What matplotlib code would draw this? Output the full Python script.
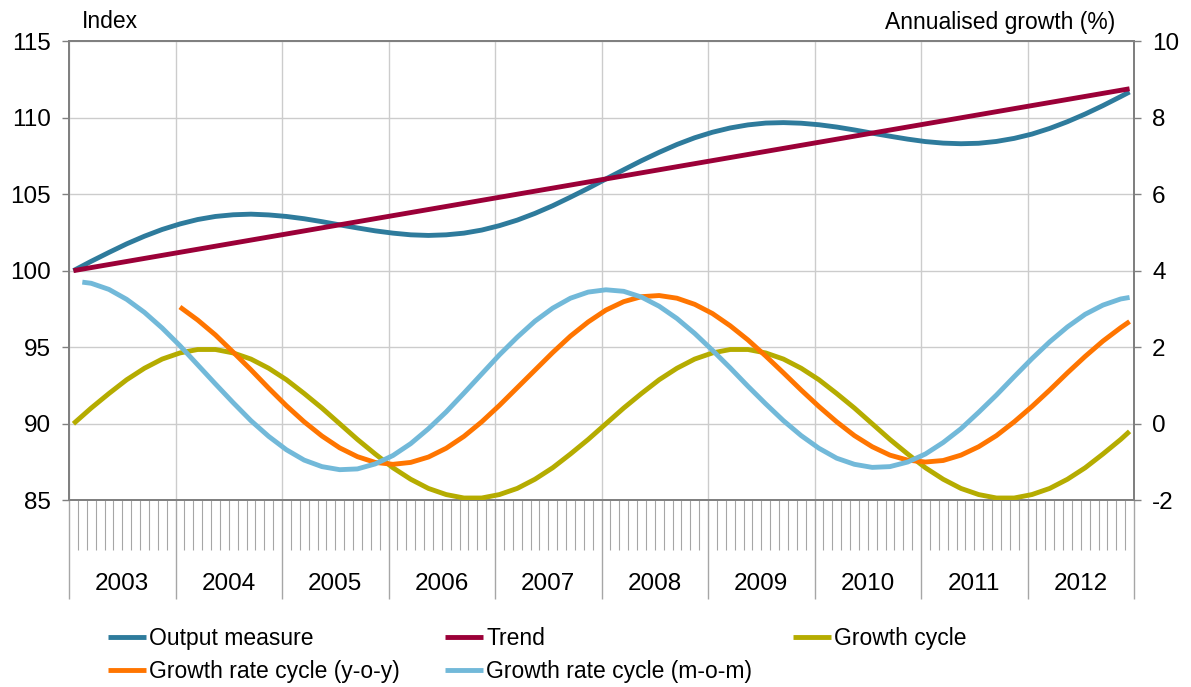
import matplotlib
matplotlib.use("Agg")
import matplotlib.pyplot as plt
import matplotlib.transforms as mtransforms

plt.rcParams['font.family'] = ['Liberation Sans', 'DejaVu Sans']
plt.rcParams['font.size'] = 16.5
plt.rcParams['axes.unicode_minus'] = False

# ---------------- data (month index: 0 = Jan 2003), read every 2 months ----------------
years = ['2003', '2004', '2005', '2006', '2007', '2008', '2009', '2010', '2011', '2012']

b_months = list(range(0, 120, 2)) + [119]

output_measure = [100.00, 100.61, 101.19, 101.75, 102.25, 102.69, 103.05, 103.34, 103.54, 103.65,
                  103.69, 103.64, 103.54, 103.39, 103.20, 102.99, 102.79, 102.60, 102.45, 102.34,
                  102.30, 102.34, 102.45, 102.65, 102.94, 103.30, 103.74, 104.24, 104.80, 105.38,
                  105.99, 106.59, 107.18, 107.73, 108.24, 108.68, 109.04, 109.32, 109.52, 109.64,
                  109.67, 109.63, 109.53, 109.38, 109.19, 108.98, 108.78, 108.59, 108.43, 108.33,
                  108.29, 108.32, 108.44, 108.64, 108.92, 109.29, 109.73, 110.23, 110.78, 111.37,
                  111.67]

trend_months = [0, 119]
trend = [100.00, 111.88]

growth_cycle = [0.00, 0.41, 0.79, 1.15, 1.45, 1.69, 1.85, 1.94, 1.94, 1.85,
                1.69, 1.45, 1.15, 0.79, 0.41, 0.00, -0.41, -0.79, -1.15, -1.45,
                -1.69, -1.85, -1.94, -1.94, -1.85, -1.69, -1.45, -1.15, -0.79, -0.41,
                0.00, 0.41, 0.79, 1.15, 1.45, 1.69, 1.85, 1.94, 1.94, 1.85,
                1.69, 1.45, 1.15, 0.79, 0.41, 0.00, -0.41, -0.79, -1.15, -1.45,
                -1.69, -1.85, -1.94, -1.94, -1.85, -1.69, -1.45, -1.15, -0.79, -0.41,
                -0.20]

yoy_months = list(range(12, 120, 2)) + [119]
growth_yoy = [3.05, 2.71, 2.32, 1.87, 1.41, 0.93, 0.47, 0.05, -0.32, -0.63,
              -0.86, -1.01, -1.06, -1.01, -0.87, -0.64, -0.33, 0.05, 0.48, 0.94,
              1.40, 1.86, 2.29, 2.66, 2.97, 3.19, 3.32, 3.35, 3.28, 3.12,
              2.88, 2.56, 2.19, 1.77, 1.33, 0.88, 0.45, 0.05, -0.31, -0.60,
              -0.82, -0.95, -1.00, -0.96, -0.82, -0.60, -0.31, 0.05, 0.45, 0.88,
              1.33, 1.76, 2.16, 2.51, 2.67]

mom_months = [1] + list(range(2, 120, 2)) + [119]
growth_mom = [3.70,
              3.67, 3.51, 3.25, 2.91, 2.50, 2.04, 1.54, 1.04, 0.55, 0.08,
              -0.33, -0.68, -0.95, -1.12, -1.20, -1.18, -1.05, -0.83, -0.52, -0.13,
              0.31, 0.80, 1.30, 1.80, 2.26, 2.68, 3.02, 3.28, 3.44, 3.50,
              3.46, 3.31, 3.07, 2.75, 2.36, 1.92, 1.46, 0.98, 0.52, 0.08,
              -0.31, -0.64, -0.90, -1.06, -1.14, -1.12, -1.00, -0.79, -0.49, -0.13,
              0.30, 0.75, 1.23, 1.70, 2.14, 2.53, 2.86, 3.10, 3.26,
              3.30]

left_ticks = [85, 90, 95, 100, 105, 110, 115]
right_ticks = [-2, 0, 2, 4, 6, 8, 10]

labels = ['Output measure', 'Trend', 'Growth cycle',
          'Growth rate cycle (y-o-y)', 'Growth rate cycle (m-o-m)']
colors = ['#2E7B9C', '#9B0038', '#B5AC00', '#FF7500', '#72B9D9']

# ---------------- figure ----------------
W, H = 1191, 687
fig = plt.figure(figsize=(W / 100, H / 100), dpi=100)
ax = fig.add_axes([69 / W, 1 - 500.3 / H, (1134 - 69) / W, (500.3 - 41) / H])
ax2 = ax.twinx()

LW = 3.5
l_out, = ax.plot(b_months, output_measure, color=colors[0], lw=LW, solid_capstyle='butt', zorder=3)
l_tr, = ax.plot(trend_months, trend, color=colors[1], lw=LW, solid_capstyle='butt', zorder=4)
l_gc, = ax2.plot(b_months, growth_cycle, color=colors[2], lw=LW, solid_capstyle='butt', zorder=3)
l_yoy, = ax2.plot(yoy_months, growth_yoy, color=colors[3], lw=LW, solid_capstyle='butt', zorder=4)
l_mom, = ax2.plot(mom_months, growth_mom, color=colors[4], lw=LW, solid_capstyle='butt', zorder=5)

n_months = 12 * len(years)
ax.set_xlim(-0.5, n_months - 0.5)
ax.set_ylim(left_ticks[0], left_ticks[-1])
ax2.set_ylim(right_ticks[0], right_ticks[-1])
ax.set_yticks(left_ticks)
ax2.set_yticks(right_ticks)

year_bounds = [12 * k - 0.5 for k in range(len(years) + 1)]
month_bounds = [m - 0.5 for m in range(n_months + 1) if m % 12 != 0]
ax.set_xticks(year_bounds)
ax.set_xticks(month_bounds, minor=True)
ax.tick_params(axis='x', which='major', length=71, width=1.0, color='#a6a6a6',
               direction='out', labelbottom=False)
ax.tick_params(axis='x', which='minor', length=36, width=0.8, color='#a6a6a6',
               direction='out', labelbottom=False)
TICK_FS = 17.5
ax.tick_params(axis='y', length=5, width=1.0, color='#808080', pad=8.0, labelsize=TICK_FS)
ax2.tick_params(axis='y', length=5, width=1.0, color='#808080', pad=8.0, labelsize=TICK_FS)

ax.grid(True, which='major', color='#cccccc', lw=1.0)
ax.set_axisbelow(True)
for a in (ax, ax2):
    for s in a.spines.values():
        s.set_color('#808080')
        s.set_linewidth(1.4)

trans = mtransforms.blended_transform_factory(ax.transData, ax.transAxes)
for j, y in enumerate(years):
    ax.text(12 * j + 5.5, -0.182, y, transform=trans, ha='center', va='center', fontsize=TICK_FS)

fig.text(82 / W, 1 - 22 / H, 'Index', ha='left', va='center', fontsize=16.5)
fig.text(1115 / W, 1 - 22 / H, 'Annualised growth (%)', ha='right', va='center', fontsize=16.5)

# legend: three columns laid out row-wise
leg_kw = dict(loc='upper left', frameon=False, borderpad=0, borderaxespad=0,
              handlelength=1.65, handletextpad=0.15, labelspacing=0.42, fontsize=16.5)
top = 1 - 627 / H
fig.legend([l_out, l_yoy], [labels[0], labels[3]], bbox_to_anchor=(108 / W, top), **leg_kw)
fig.legend([l_tr, l_mom], [labels[1], labels[4]], bbox_to_anchor=(445 / W, top), **leg_kw)
fig.legend([l_gc], [labels[2]], bbox_to_anchor=(793 / W, top), **leg_kw)

fig.savefig('out.png', dpi=100)
